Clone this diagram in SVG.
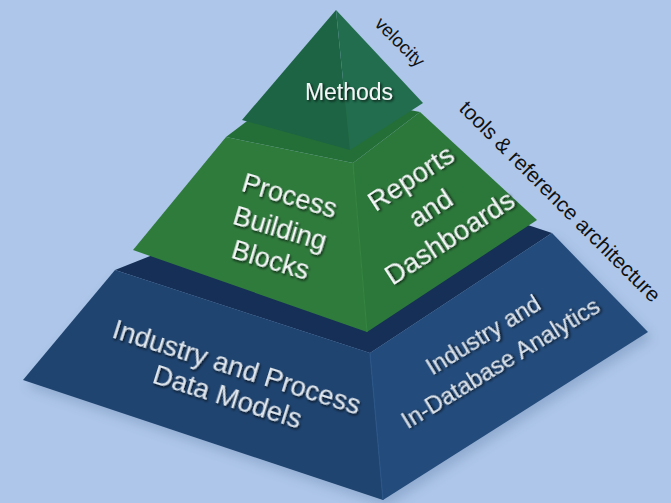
<svg xmlns="http://www.w3.org/2000/svg" width="671" height="503" viewBox="0 0 671 503">
<defs>
<filter id="ts" x="-10%" y="-40%" width="130%" height="200%"><feDropShadow dx="1.5" dy="1.5" stdDeviation="0.8" flood-color="#000" flood-opacity="0.75"/></filter>
<filter id="sh" x="-20%" y="-20%" width="140%" height="140%"><feGaussianBlur stdDeviation="6"/></filter>
</defs>
<style>
.lbl{font-family:"Liberation Sans",Arial,Helvetica,sans-serif;fill:#f3f5f6;filter:url(#ts)}
.lbl-blue{font-family:"Liberation Sans",Arial,Helvetica,sans-serif;fill:#dfe5ec;filter:url(#ts)}
.side{font-family:"Liberation Sans",Arial,Helvetica,sans-serif;fill:#111111}
.ridge{fill:none;stroke-width:1.2}
</style>
<rect width="671" height="503" fill="#adc6e9"/>
<polygon points="27,386 387,506 652,338 556,239 119,276" fill="#3a5a85" opacity="0.25" filter="url(#sh)"/>

<g id="tier-base">
<polygon points="115,270 370,353 552,233 364,171" fill="#152f56"/>
<polygon points="115,270 370,353 383,500 23,380" fill="#1f4470"/>
<polygon points="370,353 552,233 648,332 383,500" fill="#234b7b"/>
<line class="ridge" x1="370" y1="353" x2="383" y2="500" stroke="#2b5687"/>
</g>

<g id="tier-middle">
<polygon points="226,137 353,163 420,112 292,87" fill="#246f37"/>
<polygon points="226,137 353,163 367,332 133,250" fill="#2f7b3c"/>
<polygon points="353,163 420,112 537,220 367,332" fill="#2c773a"/>
<line class="ridge" x1="353" y1="163" x2="367" y2="332" stroke="#35843f"/>
</g>

<g id="tier-top">
<polygon points="336,10 242,120 350,150" fill="#1c6444"/>
<polygon points="336,10 350,150 423,103" fill="#216d4e"/>
</g>

<g id="labels">
<text class="lbl" x="349" y="100" font-size="23" text-anchor="middle">Methods</text>

<g transform="translate(287,204.5) rotate(16.5)">
<text class="lbl" x="0" y="0" font-size="27" text-anchor="middle">Process</text>
<text class="lbl" x="0" y="34" font-size="27" text-anchor="middle">Building</text>
<text class="lbl" x="0" y="67" font-size="27" text-anchor="middle">Blocks</text>
</g>

<g transform="translate(416,186) rotate(-33)">
<text class="lbl" x="0" y="0" font-size="27.5" text-anchor="middle">Reports</text>
<text class="lbl" x="0" y="35.5" font-size="27.5" text-anchor="middle">and</text>
<text class="lbl" x="0" y="71" font-size="27.5" text-anchor="middle">Dashboards</text>
</g>

<g transform="translate(234,376) rotate(17.5)">
<text class="lbl-blue" x="0" y="0" font-size="27.5" text-anchor="middle">Industry and Process</text>
<text class="lbl-blue" x="0" y="31" font-size="27.5" text-anchor="middle">Data Models</text>
</g>

<g transform="translate(487.5,342) rotate(-31.5)">
<text class="lbl-blue" x="0" y="0" font-size="23.5" text-anchor="middle">Industry and</text>
<text class="lbl-blue" x="0" y="33" font-size="23.5" text-anchor="middle">In-Database Analytics</text>
</g>

<text class="side" transform="translate(395.5,46.5) rotate(45)" x="0" y="0" font-size="18.5" text-anchor="middle">velocity</text>
<text class="side" transform="translate(555,206.5) rotate(45)" x="0" y="0" font-size="21" text-anchor="middle">tools &amp; reference architecture</text>
</g>
</svg>
